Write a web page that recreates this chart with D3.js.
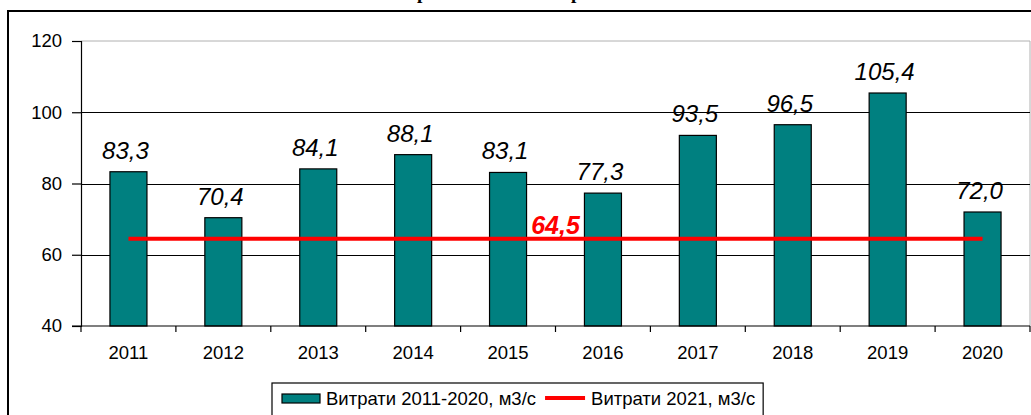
<!DOCTYPE html>
<html>
<head>
<meta charset="utf-8">
<script src="https://cdn.jsdelivr.net/npm/d3@7"></script>
<style>
  body { margin: 0; background: #fff; }
  svg { display: block; }
  text { font-family: Arial, "Liberation Sans", sans-serif; }
</style>
</head>
<body>
<div id="chart"></div>
<script>
// data
var years = ["2011", "2012", "2013", "2014", "2015", "2016", "2017", "2018", "2019", "2020"];
var flows = [83.3, 70.4, 84.1, 88.1, 83.1, 77.3, 93.5, 96.5, 105.4, 72.0];
var flow2021 = 64.5;
var yTicks = [40, 60, 80, 100, 120];
var seriesNames = ["Витрати 2011-2020, м3/с", "Витрати 2021, м3/с"];
var titleText = "Витрати за 2011-2021 роки";

var W = 1031, H = 415;
var svg = d3.select("#chart").append("svg")
  .attr("width", W)
  .attr("height", H);

function fmt(v) { return v.toFixed(1).replace(".", ","); }

// outer frame (cut by the window on right and bottom)
svg.append("path")
  .attr("d", "M8," + (H + 5) + "V11H" + (W + 5))
  .attr("fill", "none")
  .attr("stroke", "#000")
  .attr("stroke-width", 2);

// title, mostly above the visible area (only descenders show)
var title = svg.append("text")
  .attr("x", 0).attr("y", 0)
  .style("font-family", "'Liberation Serif', 'Times New Roman', serif")
  .style("font-weight", "bold")
  .style("font-size", "20px")
  .text(titleText);
// line the two "р" up with the descenders seen in the picture
var tn = title.node();
var i1 = titleText.indexOf("р"), i2 = titleText.lastIndexOf("р");
var p1 = tn.getStartPositionOfChar(i1).x, p2 = tn.getStartPositionOfChar(i2).x;
var fs = 20 * 154 / (p2 - p1);
title.style("font-size", fs + "px");
p1 = tn.getStartPositionOfChar(i1).x;
title.attr("x", 417 - p1).attr("y", -1);

var x = d3.scaleBand()
  .domain(years)
  .range([81, 1030])
  .paddingInner(0.61)
  .paddingOuter(0.305);

var y = d3.scaleLinear()
  .domain([40, 120])
  .range([326, 41]);

// plot area border (grey) top & right
svg.append("path")
  .attr("d", "M81," + y(120) + "H1030V" + y(40))
  .attr("fill", "none")
  .attr("stroke", "#b0b0b0")
  .attr("stroke-width", 1);

// gridlines
svg.append("g")
  .selectAll("line")
  .data(yTicks.filter(function(t) { return t > 40 && t < 120; }))
  .enter()
  .append("line")
    .attr("x1", 81).attr("x2", 1030)
    .attr("y1", function(d) { return Math.round(y(d)) + 0.5; })
    .attr("y2", function(d) { return Math.round(y(d)) + 0.5; })
    .attr("stroke", "#000")
    .attr("stroke-width", 1);

// bars
svg.append("g")
  .selectAll("rect")
  .data(flows)
  .enter()
  .append("rect")
    .attr("x", function(d, i) { return x(years[i]); })
    .attr("y", function(d) { return y(d); })
    .attr("width", x.bandwidth())
    .attr("height", function(d) { return y(40) - y(d); })
    .attr("fill", "#008080")
    .attr("stroke", "#000")
    .attr("stroke-width", 1.2);

// bar labels
svg.append("g")
  .selectAll("text")
  .data(flows)
  .enter()
  .append("text")
    .attr("x", function(d, i) { return x(years[i]) + x.bandwidth() / 2 - 3; })
    .attr("y", function(d) { return y(d) - 13; })
    .attr("text-anchor", "middle")
    .style("font-size", "24px")
    .style("font-style", "italic")
    .text(function(d) { return fmt(d); });

// y axis
var yAxis = d3.axisLeft(y)
  .tickValues(yTicks)
  .tickSize(9)
  .tickPadding(10)
  .tickFormat(d3.format("d"));
var gy = svg.append("g")
  .attr("transform", "translate(81,0)")
  .call(yAxis);
gy.select(".domain").attr("stroke", "#000").attr("stroke-width", 1.2);
gy.selectAll(".tick line").attr("stroke", "#000").attr("stroke-width", 1.2);
gy.selectAll("text")
  .attr("fill", "#000")
  .style("font-size", "18.5px")
  .style("font-family", "Arial, 'Liberation Sans', sans-serif");

// x axis: ticks on category boundaries
var gx = svg.append("g")
  .attr("transform", "translate(0," + y(40) + ")");
gx.append("line")
  .attr("x1", 72).attr("x2", 1030)
  .attr("stroke", "#000")
  .attr("stroke-width", 1.2);
gx.selectAll(".bt")
  .data(d3.range(years.length + 1))
  .enter()
  .append("line")
    .attr("class", "bt")
    .attr("x1", function(i) { return 81 + i * x.step(); })
    .attr("x2", function(i) { return 81 + i * x.step(); })
    .attr("y1", 0).attr("y2", 6)
    .attr("stroke", "#000")
    .attr("stroke-width", 1.2);
gx.selectAll(".lab")
  .data(years)
  .enter()
  .append("text")
    .attr("class", "lab")
    .attr("x", function(d) { return x(d) + x.bandwidth() / 2; })
    .attr("y", 33)
    .attr("text-anchor", "middle")
    .style("font-size", "18.5px")
    .text(function(d) { return d; });

// 2021 line
var cx0 = x(years[0]) + x.bandwidth() / 2;
var cx1 = x(years[years.length - 1]) + x.bandwidth() / 2;
svg.append("line")
  .attr("x1", cx0).attr("x2", cx1)
  .attr("y1", y(flow2021)).attr("y2", y(flow2021))
  .attr("stroke", "#ff0000")
  .attr("stroke-width", 4);
svg.append("text")
  .attr("x", (cx0 + cx1) / 2)
  .attr("y", y(flow2021) - 5)
  .attr("text-anchor", "middle")
  .attr("fill", "#ff0000")
  .style("font-size", "25px")
  .style("font-style", "italic")
  .style("font-weight", "bold")
  .text(fmt(flow2021));

// legend
var lg = svg.append("g");
var lx = 272, ly = 383;
var box = lg.append("rect")
  .attr("x", lx).attr("y", ly)
  .attr("height", 40)
  .attr("fill", "#fff")
  .attr("stroke", "#000")
  .attr("stroke-width", 1.2);
lg.append("rect")
  .attr("x", lx + 10).attr("y", ly + 11)
  .attr("width", 38).attr("height", 9)
  .attr("fill", "#008080")
  .attr("stroke", "#000")
  .attr("stroke-width", 1.2);
var t1 = lg.append("text")
  .attr("x", lx + 54).attr("y", ly + 22)
  .style("font-size", "18.5px")
  .text(seriesNames[0]);
var e1 = lx + 54 + t1.node().getComputedTextLength();
lg.append("line")
  .attr("x1", e1 + 9).attr("x2", e1 + 49)
  .attr("y1", ly + 15).attr("y2", ly + 15)
  .attr("stroke", "#ff0000")
  .attr("stroke-width", 4);
var t2 = lg.append("text")
  .attr("x", e1 + 55).attr("y", ly + 22)
  .style("font-size", "18.5px")
  .text(seriesNames[1]);
var e2 = e1 + 55 + t2.node().getComputedTextLength();
box.attr("width", e2 + 8 - lx);
</script>
</body>
</html>
